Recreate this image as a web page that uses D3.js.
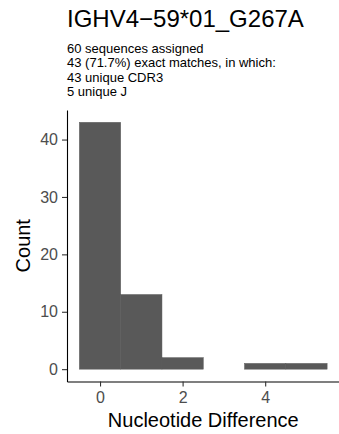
<!DOCTYPE html>
<html>
<head>
<meta charset="utf-8">
<script src="https://cdn.jsdelivr.net/npm/d3@7"></script>
<style>
  body { margin: 0; background: #fff; }
  svg { display: block; font-family: "Liberation Sans", Arial, Helvetica, sans-serif; }
</style>
</head>
<body>
<svg id="chart"></svg>
<script>
const title = "IGHV4\u221259*01_G267A";
const subtitleLines = [
  "60 sequences assigned",
  "43 (71.7%) exact matches, in which:",
  "43 unique CDR3",
  "5 unique J"
];
const diffs = [0, 1, 2, 3, 4, 5];
const counts = [43, 13, 2, 0, 1, 1];
const xTicks = [0, 2, 4];
const yTicks = [0, 10, 20, 30, 40];

const width = 339;
const height = 434;

const svg = d3.select("#chart")
  .attr("width", width)
  .attr("height", height);

const plotLeft = 67, plotRight = 339.5, plotTop = 110, plotBottom = 381.5;

const x = d3.scaleLinear().domain([-0.8, 5.8]).range([plotLeft, plotRight]);
const y = d3.scaleLinear().domain([-2.15, 45.15]).range([plotBottom, plotTop]);

// bars
svg.append("g")
  .selectAll("rect")
  .data(diffs.map((d, i) => ({ d, c: counts[i] })).filter(e => e.c > 0))
  .join("rect")
  .attr("x", e => x(e.d - 0.5))
  .attr("width", e => x(e.d + 0.5) - x(e.d - 0.5))
  .attr("y", e => y(e.c))
  .attr("height", e => y(0) - y(e.c))
  .attr("fill", "#595959")
  .attr("stroke", "#595959")
  .attr("stroke-width", 0.5);

// axes
const xAxis = svg.append("g")
  .attr("transform", `translate(0,${plotBottom})`)
  .call(d3.axisBottom(x).tickValues(xTicks).tickFormat(d3.format("d"))
    .tickSize(5).tickPadding(5).tickSizeOuter(0));
const yAxis = svg.append("g")
  .attr("transform", `translate(${plotLeft},0)`)
  .call(d3.axisLeft(y).tickValues(yTicks).tickFormat(d3.format("d"))
    .tickSize(5).tickPadding(4).tickSizeOuter(0));

[xAxis, yAxis].forEach(a => {
  a.select(".domain").attr("stroke", "#000").attr("stroke-width", 1.1);
  a.selectAll(".tick line").attr("stroke", "#333").attr("stroke-width", 1.1);
  a.selectAll(".tick text")
    .attr("fill", "#4d4d4d")
    .style("font-size", "16px")
    .style("font-family", "'Liberation Sans', Arial, sans-serif");
});

// axis titles
svg.append("text")
  .attr("x", (plotLeft + plotRight) / 2)
  .attr("y", 426.5)
  .attr("text-anchor", "middle")
  .style("font-size", "20px")
  .text("Nucleotide Difference");

svg.append("text")
  .attr("transform", `translate(29.5,${(plotTop + plotBottom) / 2}) rotate(-90)`)
  .attr("text-anchor", "middle")
  .style("font-size", "20px")
  .text("Count");

// title and subtitle
svg.append("text")
  .attr("x", plotLeft)
  .attr("y", 26.5)
  .style("font-size", "24px")
  .text(title);

svg.append("g")
  .selectAll("text")
  .data(subtitleLines)
  .join("text")
  .attr("x", plotLeft)
  .attr("y", (d, i) => 53 + i * 14.4)
  .style("font-size", "13px")
  .text(d => d);
</script>
</body>
</html>
